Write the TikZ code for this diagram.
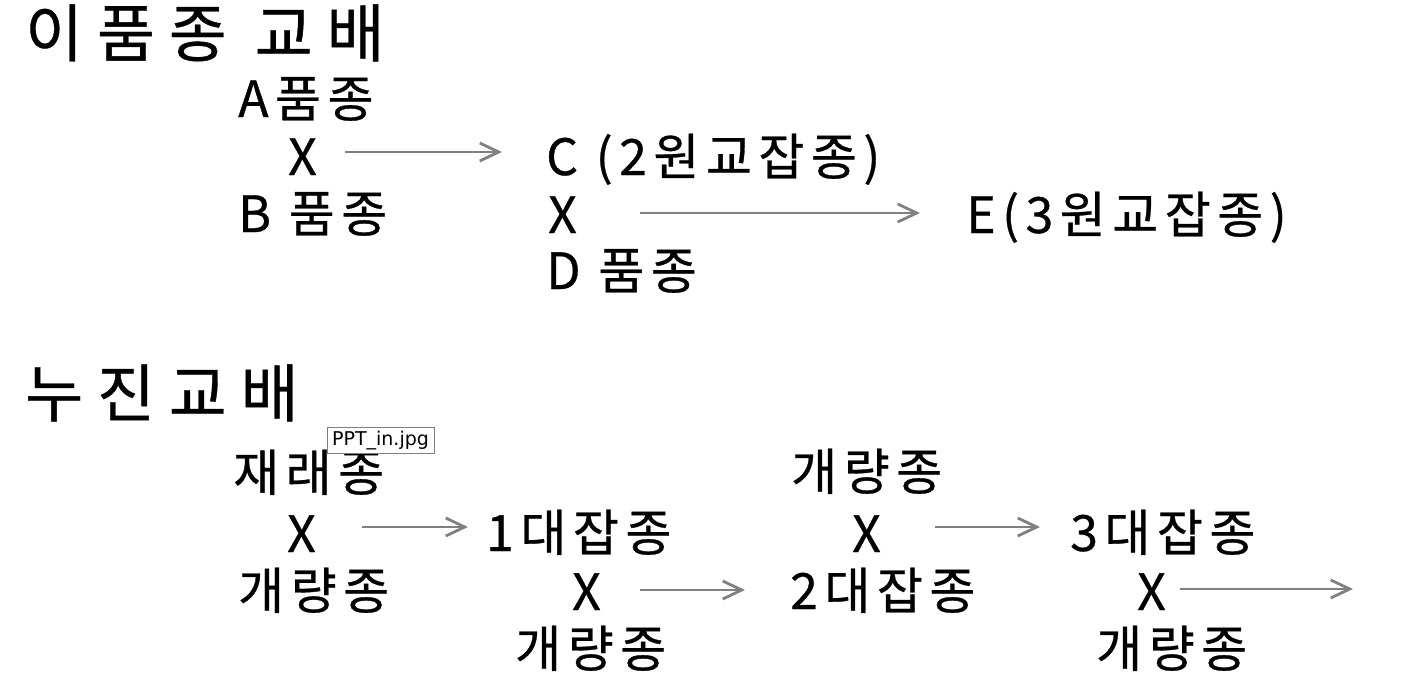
\documentclass[tikz,border=0pt]{standalone}
\usepackage{fontspec}
\usetikzlibrary{arrows.meta}
\newfontfamily\krbig[LetterSpace=22,FakeBold=0.6]{Noto Sans CJK KR}
\newfontfamily\kr[LetterSpace=13,FakeBold=0.6]{Noto Sans CJK KR}
\newfontfamily\tagfont{DejaVu Sans}
\definecolor{arrowgray}{HTML}{808080}
\tikzset{
  title/.style={anchor=west, inner sep=0pt, text height=47pt, text depth=0pt, font=\krbig\fontsize{63}{70}\selectfont},
  lbl/.style={anchor=west, inner sep=0pt, text height=38pt, text depth=0pt, font=\kr\fontsize{50}{56}\selectfont},
  cross/.style={draw=arrowgray, line width=2.8pt, -{Straight Barb[length=19pt, width=18pt, line width=2.8pt]}},
  tagbox/.style={draw=gray, line width=1pt, fill=white, inner sep=0pt, minimum width=107pt, minimum height=26pt, text height=14pt, text depth=4pt, font=\tagfont\fontsize{19}{22}\selectfont}
}
\begin{document}
\begin{tikzpicture}[x=1pt, y=-1pt]
\useasboundingbox (0,0) rectangle (1419,686);
% section 1
\node[title] (t1) at (25,33) {이품종 교배};
\node[lbl] (a) at (238,98) {A품종};
\node[lbl] (x1) at (288,156) {X};
\node[lbl] (c) at (546,156) {C (2원교잡종)};
\node[lbl] (b) at (238,213) {B 품종};
\node[lbl] (x2) at (548,214) {X};
\node[lbl] (e) at (966,214) {E(3원교잡종)};
\node[lbl] (d) at (546,270) {D 품종};
\coordinate (a1s) at (345,152);
\coordinate (a1e) at (502,152);
\coordinate (a2s) at (640,213);
\coordinate (a2e) at (920,213);
\draw[cross] (a1s) -- (a1e);
\draw[cross] (a2s) -- (a2e);
% section 2
\node[title] (t2) at (25,393) {누진교배};
\node[lbl] (r1) at (233,472) {재래종};
\node[lbl] (x3) at (287,533) {X};
\node[lbl] (h1) at (486,532) {1대잡종};
\node[lbl] (g1) at (238,590) {개량종};
\node[lbl] (x4) at (572,591) {X};
\node[lbl] (h2) at (790,590) {2대잡종};
\node[lbl] (g2) at (515,648) {개량종};
\node[lbl] (g3) at (791,471) {개량종};
\node[lbl] (x5) at (852,533) {X};
\node[lbl] (h3) at (1070,532) {3대잡종};
\node[lbl] (x6) at (1137,591) {X};
\node[lbl] (g4) at (1096,648) {개량종};
\coordinate (a3s) at (362,527);
\coordinate (a3e) at (468,527);
\coordinate (a4s) at (640,590);
\coordinate (a4e) at (745,590);
\coordinate (a5s) at (935,527);
\coordinate (a5e) at (1040,527);
\coordinate (a6s) at (1180,589);
\coordinate (a6e) at (1353,589);
\draw[cross] (a3s) -- (a3e);
\draw[cross] (a4s) -- (a4e);
\draw[cross] (a5s) -- (a5e);
\draw[cross] (a6s) -- (a6e);
\node[tagbox] (tag) at (380.5,440) {PPT\_in.jpg};
\end{tikzpicture}
\end{document}
